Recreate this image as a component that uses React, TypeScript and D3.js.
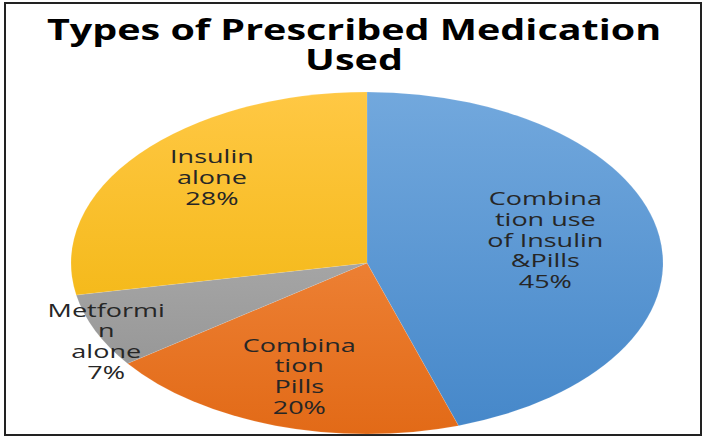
import React from 'react'
import * as d3 from 'd3'

// slices clockwise from 12 o'clock
const categories = ['Combination use of Insulin &Pills', 'Combination Pills', 'Metformin alone', 'Insulin alone']
const values = [45, 20, 7, 28]
const labelLines = [
  ['Combina', 'tion use', 'of Insulin', '&Pills', '45%'],
  ['Combina', 'tion', 'Pills', '20%'],
  ['Metformi', 'n', 'alone', '7%'],
  ['Insulin', 'alone', '28%'],
]
const titleLines = ['Types of Prescribed Medication', 'Used']

const gradients = [
  ['#72a8dd', '#4587c9'],
  ['#f7954f', '#e26a17'],
  ['#bcbcbc', '#8e8e8e'],
  ['#ffc844', '#eeb000'],
]
// label distance from centre, as a share of the radii (x, y), per slice
const labelRadius = [[0.61, 0.84], [0.74, 0.7], [0.96, 1.16], [0.68, 0.78]]

export default function App() {
  const width = 703, height = 439
  const cx = 367, cy = 263
  const rx = 296, ry = 171
  const sx = rx / ry
  const textStretch = 1.5
  const lineH = 20.8

  const pie = d3.pie<number>().sort(null).value(d => d)
  const arcs = pie(values)
  const arc = d3.arc<d3.PieArcDatum<number>>().innerRadius(0).outerRadius(ry)

  const labelPos = (d: d3.PieArcDatum<number>, i: number) => {
    const [kx, ky] = labelRadius[i]
    const a = (d.startAngle + d.endAngle) / 2
    return [cx + Math.sin(a) * rx * kx, cy - Math.cos(a) * ry * ky]
  }

  return (
    <svg width={width} height={height} style={{ position: 'absolute', left: 0, top: 0, background: '#fff' }}
      fontFamily="'Open Sans', sans-serif">
      <defs>
        {gradients.map((g, i) => (
          <linearGradient key={i} id={'grad' + i} gradientUnits="userSpaceOnUse" x1={0} y1={-ry} x2={0} y2={ry}>
            <stop offset="0" stopColor={g[0]} />
            <stop offset="1" stopColor={g[1]} />
          </linearGradient>
        ))}
      </defs>
      <rect x={5} y={3} width={696} height={432} fill="#fff" stroke="#222" strokeWidth={2} />

      <g transform={`translate(${cx},${cy}) scale(${sx},1)`}>
        {arcs.map((d, i) => (
          <path key={categories[i]} d={arc(d) || ''} fill={`url(#grad${i})`} stroke="#fff" strokeOpacity={0.2} strokeWidth={0.4} />
        ))}
      </g>

      {titleLines.map((t, i) => (
        <g key={t} transform={`translate(354,${40 + i * 30}) scale(1.41,1)`}>
          <text textAnchor="middle" fontSize={28} fontWeight="bold" fill="#000">{t}</text>
        </g>
      ))}

      {arcs.map((d, i) => {
        const [lx, ly] = labelPos(d, i)
        const lines = labelLines[i]
        const y0 = ly - ((lines.length - 1) * lineH) / 2 + 6
        return (
          <g key={'l' + i}>
            {lines.map((t, j) => (
              <g key={j} transform={`translate(${lx},${y0 + j * lineH}) scale(${textStretch},1)`}>
                <text textAnchor="middle" fontSize={18} fill="#262626">{t}</text>
              </g>
            ))}
          </g>
        )
      })}
    </svg>
  )
}
